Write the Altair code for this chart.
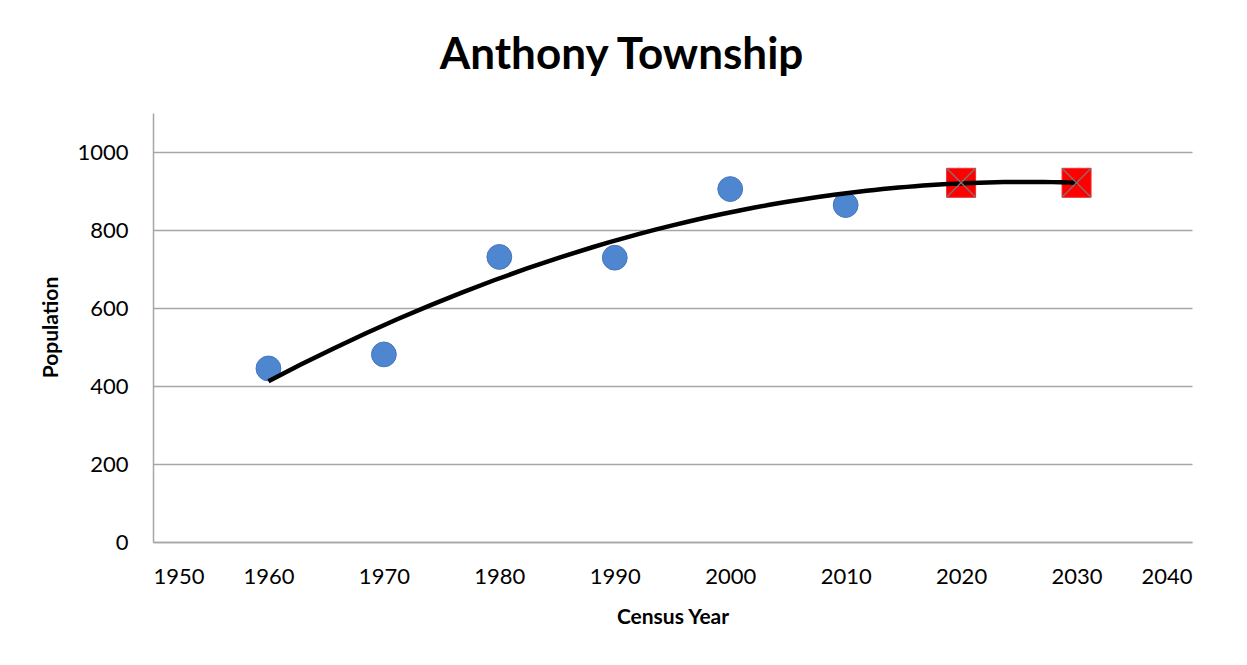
import altair as alt
import pandas as pd

years = [1960, 1970, 1980, 1990, 2000, 2010, 2020, 2030]
population = [445, 481, 731, 729, 905, 864, 921, 921]
kind = ["Census", "Census", "Census", "Census", "Census", "Census", "Projected", "Projected"]

x_ticks = [1950, 1960, 1970, 1980, 1990, 2000, 2010, 2020, 2030, 2040]
y_ticks = [0, 200, 400, 600, 800, 1000]

df = pd.DataFrame({"year": years, "population": population, "kind": kind})

FONT = "Lato"
GRID = "#A6A6A6"

x_enc = alt.X(
    "year:Q",
    scale=alt.Scale(domain=[1950, 2040], nice=False, zero=False),
    axis=alt.Axis(
        values=x_ticks, format="d", title="Census Year", grid=False, ticks=False,
        domainColor=GRID, domainWidth=1.5, labelFontSize=22, labelFont=FONT,
        labelColor="#000000", labelPadding=24, titleFont=FONT, titleFontSize=21,
        titleFontWeight="bold", titleColor="#000000", titleBaseline="alphabetic",
        titleY=81,
    ),
)
y_enc = alt.Y(
    "population:Q",
    scale=alt.Scale(domain=[0, 1100], nice=False),
    axis=alt.Axis(
        values=y_ticks, format="d", title="Population", grid=True, gridColor=GRID,
        gridWidth=1.5, ticks=False, domainColor=GRID, domainWidth=1.5,
        labelFontSize=22, labelFont=FONT, labelColor="#000000", labelPadding=25,
        titleFont=FONT, titleFontSize=21, titleFontWeight="bold",
        titleColor="#000000", titleX=-96, titleY=214, titleBaseline="alphabetic",
    ),
)

base = alt.Chart(df)

census = base.transform_filter(alt.datum.kind == "Census").mark_point(
    shape="circle", filled=True, size=616, fill="#4F86D0", stroke="#4676BD",
    strokeWidth=1, opacity=1,
).encode(x=x_enc, y=y_enc)

projected_sq = base.transform_filter(alt.datum.kind == "Projected").mark_point(
    shape="square", filled=True, size=841, fill="#FF0000", stroke="#E83030",
    strokeWidth=1, opacity=1,
).encode(x=x_enc, y=y_enc)

projected_x = base.transform_filter(alt.datum.kind == "Projected").mark_point(
    shape="M-1,-1L1,1M-1,1L1,-1", filled=False, size=841, stroke="#8C6A6A",
    strokeWidth=1.5, opacity=1,
).encode(x=x_enc, y=y_enc)

trend = base.transform_regression(
    "year", "population", method="poly", order=2
).mark_line(color="#000000", strokeWidth=4.5).encode(x=x_enc, y=y_enc)

chart = alt.layer(census, projected_sq, trend, projected_x).properties(
    width=1039,
    height=429,
    background="#FFFFFF",
    title=alt.TitleParams(
        "Anthony Township", font=FONT, fontSize=44, fontWeight="bold",
        color="#000000", anchor="middle", baseline="alphabetic", offset=0, dx=-51,
    ),
    autosize=alt.AutoSizeParams(type="none"),
    padding={"left": 145, "top": 105, "right": 47, "bottom": 115},
).configure_view(stroke="transparent", strokeWidth=0)

chart.save("out.html", embed_options={"renderer": "svg", "actions": False})
